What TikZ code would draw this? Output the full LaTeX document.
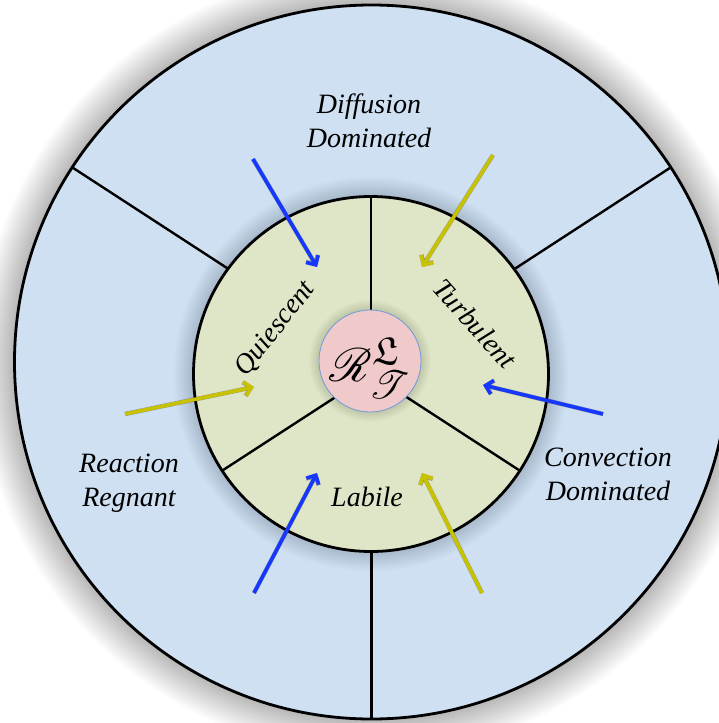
\documentclass[tikz,border=0pt]{standalone}
\usepackage{fontspec}
\setmainfont{Liberation Serif}
\usepackage{graphicx}
\usepackage{amssymb}
\usepackage{mathrsfs}
\usetikzlibrary{arrows.meta}
\definecolor{outerblue}{RGB}{207,224,242}
\definecolor{innergreen}{RGB}{223,230,200}
\definecolor{corepink}{RGB}{240,202,202}
\definecolor{coreedge}{RGB}{110,155,220}
\definecolor{arrowblue}{RGB}{22,55,255}
\definecolor{arrowyellow}{RGB}{200,194,0}
\begin{document}
\begin{tikzpicture}[x=1pt,y=-1pt,
  divider/.style={line width=2.4pt, black},
  lab/.style={font=\fontsize{28}{34}\selectfont\itshape, align=center, inner sep=0pt},
  flowarrow/.style={line width=3.6pt, -{Straight Barb[length=7pt,width=14pt]}},
  shadowarrow/.style={flowarrow, black, opacity=0.3, line width=4.4pt, shift={(2.5,2.5)}},
]
\path[use as bounding box] (0,0) rectangle (719,723);
\clip (0,0) rectangle (719,723);
\fill[white] (0,0) rectangle (719,723);

% centres
\coordinate (O) at (371.5,362);
\coordinate (G) at (371,374);
\coordinate (C) at (370,361);

% outer halo
\foreach \k in {1,...,36}{
  \fill[black, opacity=0.008] (O) circle[radius=357+\k];
}
% outer disc
\node[circle, minimum size=714pt, inner sep=0pt, fill=outerblue, draw=black, line width=2.8pt] (outer) at (O) {};

% outer dividers
\coordinate (oUL) at (72.6,167.6);
\coordinate (oUR) at (670.4,167.6);
\coordinate (oB) at (371.5,719);
\draw[divider] (O) -- (oUL);
\draw[divider] (O) -- (oUR);
\draw[divider] (O) -- (oB);

% green halo
\foreach \k in {1,...,20}{
  \fill[black, opacity=0.006] (G) circle[radius=177.5+\k];
}
\node[circle, minimum size=355pt, inner sep=0pt, fill=innergreen, draw=black, line width=2.8pt] (inner) at (G) {};

% inner dividers
\coordinate (iT) at (371,196.5);
\coordinate (iLL) at (222.1,470.7);
\coordinate (iLR) at (519.9,470.7);
\draw[divider] (G) -- (iT);
\draw[divider] (G) -- (iLL);
\draw[divider] (G) -- (iLR);

% core halo
\foreach \k in {1,...,10}{
  \fill[black, opacity=0.01] (C) circle[radius=51+\k];
}
\node[circle, minimum size=102pt, inner sep=0pt, fill=corepink, draw=coreedge, line width=0.8pt] (core) at (C) {};
\node[inner sep=0pt] (formula) at (370,368)
  {\scalebox{1.88}{\fontsize{24.88}{30}\selectfont$\mathscr{R}^{\mathfrak{L}}_{\mathscr{T}}$}};

% labels
\node[lab, anchor=base] (diff) at (369,147) {Diffusion\\Dominated};
\node[lab, anchor=base] (conv) at (608,500) {Convection\\Dominated};
\node[lab, anchor=base] (reac) at (129,506) {Reaction\\Regnant};
\node[lab, anchor=base] (labile) at (367,506) {Labile};
\node[lab, anchor=base, rotate=52] (quies) at (281,333) {Quiescent};
\node[lab, anchor=base, rotate=-48] (turb) at (468,330) {Turbulent};

% arrows
\coordinate (a1s) at (253,159); \coordinate (a1e) at (317,267);
\coordinate (a2s) at (493,155); \coordinate (a2e) at (422,267);
\coordinate (a3s) at (125,414); \coordinate (a3e) at (254,387);
\coordinate (a4s) at (603,414); \coordinate (a4e) at (483,385);
\coordinate (a5s) at (254,593); \coordinate (a5e) at (317,473);
\coordinate (a6s) at (482,593); \coordinate (a6e) at (422,473);
\foreach \a in {1,...,6}{
  \draw[shadowarrow] (a\a s) -- (a\a e);
}
\draw[flowarrow, arrowblue] (a1s) -- (a1e);
\draw[flowarrow, arrowyellow] (a2s) -- (a2e);
\draw[flowarrow, arrowyellow] (a3s) -- (a3e);
\draw[flowarrow, arrowblue] (a4s) -- (a4e);
\draw[flowarrow, arrowblue] (a5s) -- (a5e);
\draw[flowarrow, arrowyellow] (a6s) -- (a6e);
\end{tikzpicture}
\end{document}
